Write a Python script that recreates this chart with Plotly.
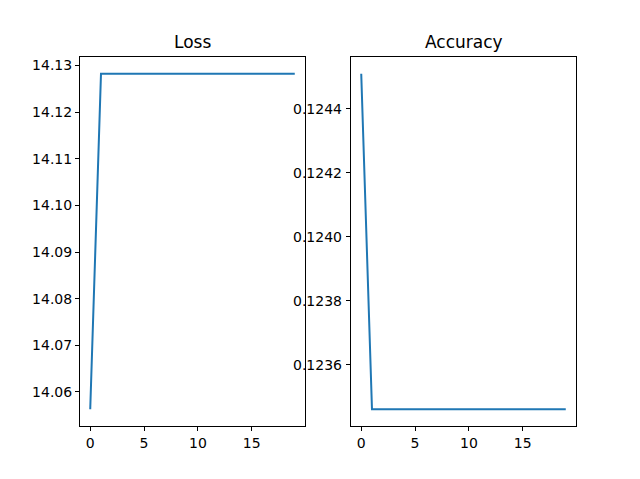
import plotly.graph_objects as go

epochs = list(range(20))
loss = [14.0563] + [14.1282] * 19
accuracy = [0.12451] + [0.12346] * 19
loss_ticks = [14.06, 14.07, 14.08, 14.09, 14.10, 14.11, 14.12, 14.13]
acc_ticks = [0.1236, 0.1238, 0.1240, 0.1242, 0.1244]
epoch_ticks = [0, 5, 10, 15]

W, H = 640, 479
OFF = 8  # page body margin offset

fig = go.Figure()
fig.add_trace(go.Scatter(x=epochs, y=loss, mode="lines", line=dict(color="#1f77b4", width=2), xaxis="x", yaxis="y", showlegend=False))
fig.add_trace(go.Scatter(x=epochs, y=accuracy, mode="lines", line=dict(color="#1f77b4", width=2), xaxis="x2", yaxis="y2", showlegend=False))

def pad(vals):
    lo, hi = min(vals), max(vals)
    m = (hi - lo) * 0.05
    return [lo - m, hi + m]

font = dict(family="DejaVu Sans", size=14, color="black")
ax_common = dict(showline=True, mirror=True, linecolor="black", linewidth=1, ticks="outside",
                 ticklen=4, tickwidth=1, tickcolor="black", showgrid=False, zeroline=False,
                 tickfont=font)

def px(x):
    return (x - OFF) / W

def py(y):
    return 1 - (y - OFF) / H

ytop = py(57)
ybot = py(426)

annotations = [
    dict(text="Loss", x=px((80 + 305) / 2), y=ytop, xref="paper", yref="paper", xanchor="center", yanchor="bottom",
         yshift=3, showarrow=False, font=dict(family="DejaVu Sans", size=17, color="black")),
    dict(text="Accuracy", x=px((351 + 576) / 2), y=ytop, xref="paper", yref="paper", xanchor="center", yanchor="bottom",
         yshift=3, showarrow=False, font=dict(family="DejaVu Sans", size=17, color="black")),
]
for t in acc_ticks:
    annotations.append(dict(text=f"{t:.4f}", x=px(351), y=t, xref="paper", yref="y2", xanchor="right",
                            yanchor="middle", xshift=-7, showarrow=False, font=font))

fig.update_layout(
    width=W, height=H, margin=dict(l=0, r=0, t=0, b=0),
    paper_bgcolor="white", plot_bgcolor="rgba(0,0,0,0)",
    xaxis=dict(domain=[px(80), px(305)], range=pad(epochs), tickvals=epoch_ticks, anchor="y", **ax_common),
    yaxis=dict(domain=[ybot, ytop], range=pad(loss), tickvals=loss_ticks, tickformat=".2f", anchor="x", **ax_common),
    xaxis2=dict(domain=[px(351), px(576)], range=pad(epochs), tickvals=epoch_ticks, anchor="y2", **ax_common),
    yaxis2=dict(domain=[ybot, ytop], range=pad(accuracy), tickvals=acc_ticks, showticklabels=False,
                anchor="x2", **ax_common),
    annotations=annotations,
)
fig.write_html("out.html")
